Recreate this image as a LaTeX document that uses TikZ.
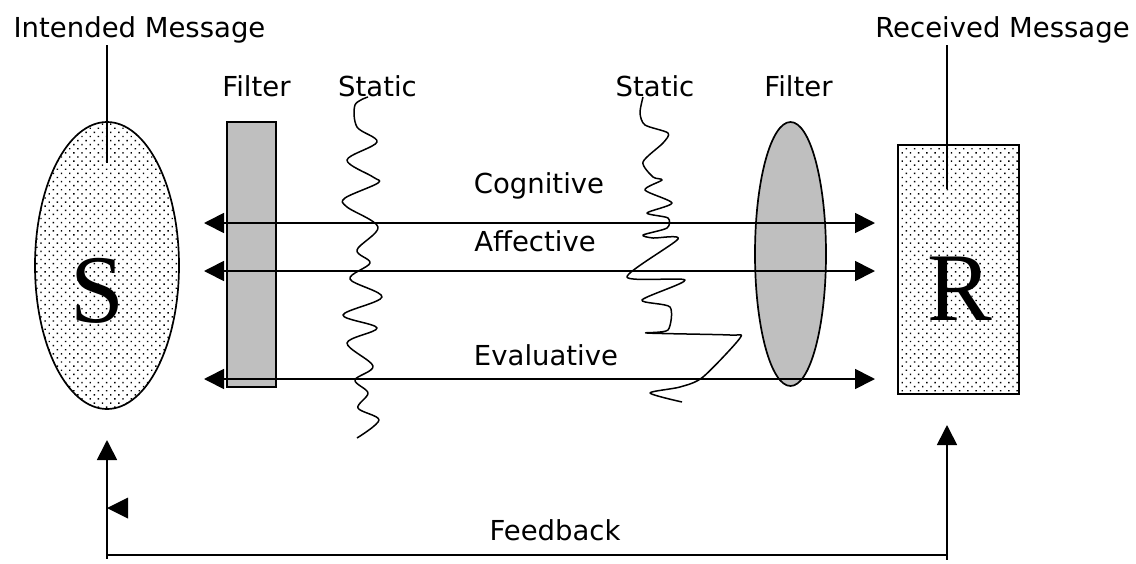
\documentclass[tikz,border=0pt]{standalone}
\usepackage{fontspec}
\setmainfont{DejaVu Sans}
\newfontfamily\bigserif{Liberation Serif}
\usetikzlibrary{shapes.geometric,arrows.meta,patterns.meta}
\begin{document}
\begin{tikzpicture}[x=1pt,y=-1pt,
  >={Triangle[length=20pt,width=20pt]},
  lbl/.style={font=\fontsize{27.5}{30}\selectfont, inner sep=0pt, anchor=base},
  big/.style={font=\bigserif\fontsize{97}{97}\selectfont, inner sep=0pt, anchor=base},
  dotted fill/.style={pattern={Dots[distance=5.8pt, angle=45, radius=1pt]}},
  grayfill/.style={fill=black!25},
  ln/.style={line width=1.7pt},
  sq/.style={line width=1.5pt, line join=round}
]
\useasboundingbox (0,0) rectangle (1136,563);

% shapes
\node[ellipse, draw, ln, dotted fill, minimum width=144, minimum height=287, inner sep=0pt] (S) at (107,265.5) {};
\node[rectangle, draw, ln, grayfill, minimum width=49, minimum height=265, inner sep=0pt] (F1) at (251.5,254.5) {};
\node[ellipse, draw, ln, grayfill, minimum width=71, minimum height=264, inner sep=0pt] (F2) at (790.5,254) {};
\node[rectangle, draw, ln, dotted fill, minimum width=121, minimum height=249, inner sep=0pt] (R) at (958.5,269.5) {};

\node[big] (Sl) at (97,322) {S};
\node[big] (Rl) at (960,320) {R};

% labels
\node[lbl] (im) at (139.5,37) {Intended Message};
\node[lbl] (rm) at (1002.5,37) {Received Message};
\node[lbl] (f1) at (256.5,96.5) {Filter};
\node[lbl] (st1) at (377.5,96.5) {Static};
\node[lbl] (st2) at (655,96.5) {Static};
\node[lbl] (f2) at (798.5,96.5) {Filter};
\node[lbl] (cog) at (539,193) {Cognitive};
\node[lbl] (aff) at (535,251) {Affective};
\node[lbl] (eva) at (546,365) {Evaluative};
\node[lbl] (fb) at (555,540) {Feedback};

% pointer lines
\coordinate (sTop) at (107,45);
\coordinate (sIn) at (107,163);
\coordinate (rTop) at (947,45);
\coordinate (rIn) at (947,189);
\draw[ln] (sTop) -- (sIn);
\draw[ln] (rTop) -- (rIn);

% static squiggles
\draw[sq] plot[smooth, tension=0.55] coordinates {
(368,97) (355,105) (357,127) (377,142) (347,160) (373,177) (378,183) (345,198) (347,207)
(378,227) (357,250) (370,263) (350,279) (382,297) (343,315) (377,328) (347,343) (373,366)
(355,380) (368,393) (358,408) (379,420) (357,438)};
\draw[sq] plot[smooth, tension=0.45] coordinates {
(643,97) (640,113) (645,125) (668,133) (663,143) (643,162) (653,177) (662,180) (645,190)
(672,203) (647,213) (668,218) (667,228) (643,235) (653,238) (678,239) (627,277) (685,280)
(642,300) (670,307) (668,330) (647,333) (730,335) (740,338) (703,377) (680,387) (650,393) (682,402)};

% channel arrows
\coordinate (a1L) at (204,223); \coordinate (a1R) at (875,223);
\coordinate (a2L) at (204,271); \coordinate (a2R) at (875,271);
\coordinate (a3L) at (204,379); \coordinate (a3R) at (875,379);
\draw[ln, <->] (a1L) -- (a1R);
\draw[ln, <->] (a2L) -- (a2R);
\draw[ln, <->] (a3L) -- (a3R);

% feedback loop
\coordinate (fbRT) at (947,425);
\coordinate (fbRB) at (947,555);
\coordinate (fbLB) at (107,555);
\coordinate (fbLT) at (107,440);
\draw[ln, <->] (fbRT) -- (fbRB) -- (fbLB) -- (fbLT);
\draw[ln] (fbRB) -- ++(0,5);
\draw[ln] (fbLB) -- ++(0,4);
\fill (107,508) -- (128,497.5) -- (128,518.5) -- cycle;
\end{tikzpicture}
\end{document}
